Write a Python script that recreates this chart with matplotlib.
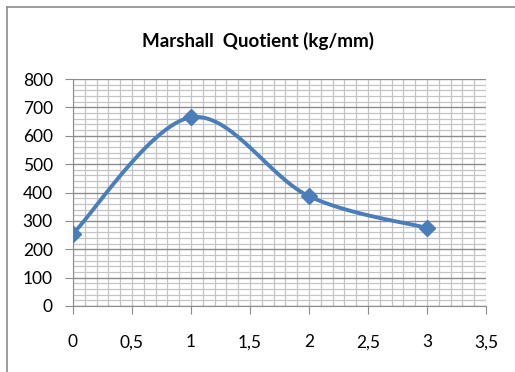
import numpy as np
import matplotlib
matplotlib.use("Agg")
import matplotlib.pyplot as plt
from matplotlib.ticker import MultipleLocator, FuncFormatter

x_vals = [0, 1, 2, 3]
quotient = [255, 665, 387, 275]

plt.rcParams['font.family'] = ['Lato', 'DejaVu Sans']


def smooth(xs, ys, n=40):
    # Excel-like smoothed line (Catmull-Rom style Bezier)
    xs = np.asarray(xs, float)
    ys = np.asarray(ys, float)
    px = np.concatenate([[xs[0]], xs, [xs[-1]]])
    py = np.concatenate([[ys[0]], ys, [ys[-1]]])
    outx, outy = [], []
    t = np.linspace(0, 1, n)
    for i in range(1, len(px) - 2):
        p0 = np.array([px[i], py[i]])
        p3 = np.array([px[i + 1], py[i + 1]])
        p1 = p0 + (np.array([px[i + 1], py[i + 1]]) - np.array([px[i - 1], py[i - 1]])) / 6
        p2 = p3 - (np.array([px[i + 2], py[i + 2]]) - np.array([px[i], py[i]])) / 6
        b = ((1 - t) ** 3)[:, None] * p0 + (3 * (1 - t) ** 2 * t)[:, None] * p1 \
            + (3 * (1 - t) * t ** 2)[:, None] * p2 + (t ** 3)[:, None] * p3
        outx.extend(b[:, 0])
        outy.extend(b[:, 1])
    return outx, outy


fig = plt.figure(figsize=(5.15, 3.72), dpi=100)
ax = fig.add_axes([73 / 515, 1 - 306 / 372, (486 - 73) / 515, (306 - 79) / 372])

sx, sy = smooth(x_vals, quotient)
ax.plot(sx, sy, color='#4a7ebb', lw=2.8, zorder=3, solid_capstyle='round')
ax.plot(x_vals, quotient, ls='none', marker='D', ms=8.5, color='#4a7ebb', zorder=4)

ax.set_xlim(0, 3.5)
ax.set_ylim(0, 800)
ax.xaxis.set_major_locator(MultipleLocator(0.5))
ax.xaxis.set_minor_locator(MultipleLocator(0.1))
ax.yaxis.set_major_locator(MultipleLocator(100))
ax.yaxis.set_minor_locator(MultipleLocator(20))
ax.xaxis.set_major_formatter(FuncFormatter(lambda v, p: ('%g' % v).replace('.', ',')))

# vertical lines: only the fine 0.1 grid; horizontal: darker every 100
ax.xaxis.grid(True, which='both', color='#c4c4c4', lw=0.9, zorder=0)
ax.yaxis.grid(True, which='minor', color='#c4c4c4', lw=0.9, zorder=0)
ax.yaxis.grid(True, which='major', color='#8c8c8c', lw=1.0, zorder=1)
ax.set_axisbelow(True)

for s in ['top', 'right']:
    ax.spines[s].set_visible(False)
ax.spines['left'].set_color('#8c8c8c')
ax.spines['bottom'].set_color('#8c8c8c')
ax.tick_params(which='major', length=5.5, color='#8c8c8c', labelsize=12.5)
ax.tick_params(axis='y', pad=9)
ax.tick_params(axis='x', pad=15)
ax.tick_params(which='minor', length=0)

fig.text(0.5, 1 - 41 / 372, 'Marshall  Quotient (kg/mm)', ha='center', va='center',
         fontsize=13.5, fontweight='bold')

# outer chart border (left and top)
fig.add_artist(plt.Line2D([7 / 515, 7 / 515], [0, 1 - 7 / 372], transform=fig.transFigure,
                          color='#8c8c8c', lw=1.2))
fig.add_artist(plt.Line2D([7 / 515, 1], [1 - 7 / 372, 1 - 7 / 372], transform=fig.transFigure,
                          color='#8c8c8c', lw=1.2))

fig.savefig('out.png', dpi=100)
